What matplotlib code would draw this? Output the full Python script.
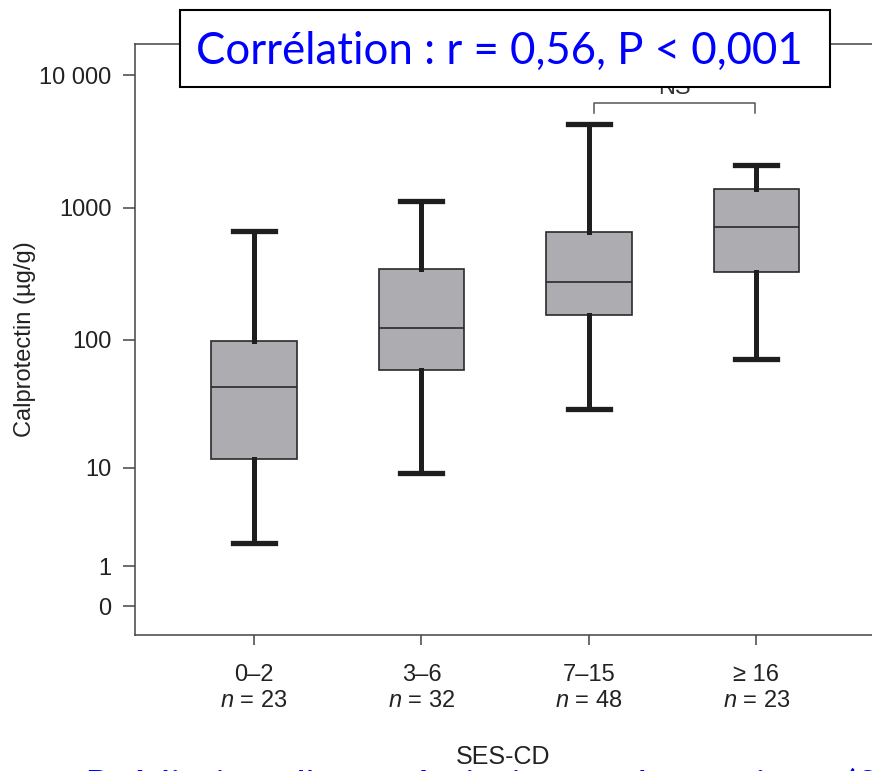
import numpy as np
import matplotlib
matplotlib.use("Agg")
import matplotlib.pyplot as plt
from matplotlib.patches import Rectangle
from matplotlib.ticker import FixedLocator, NullLocator

# ── Données ──────────────────────────────────────────────────────────────────
groups = ["0–2", "3–6", "7–15", "≥ 16"]
n_counts = [23, 32, 48, 23]
whisk_lo = [2.0, 9.1, 29.5, 72]
q1 = [11.7, 59, 154, 325]
med = [43.4, 123, 275, 712]
q3 = [99, 344, 653, 1377]
whisk_hi = [670, 1130, 4300, 2100]

ytick_vals = [0, 1, 10, 100, 1000, 10000]
ytick_labels = ["0", "1", "10", "100", "1000", "10 000"]

ns_pair = (3.03, 3.99)
ns_low, ns_high = 5200, 6150

title_txt = "Corrélation : r = 0,56, P < 0,001"
bottom_txt = "Prédiction d'une rémission endoscopique (0,80 ; 0,70–0,90)"
# ─────────────────────────────────────────────────────────────────────────────

plt.rcParams["font.family"] = ["Liberation Sans", "DejaVu Sans"]
plt.rcParams["mathtext.fontset"] = "custom"
plt.rcParams["mathtext.it"] = "Liberation Sans:italic"
plt.rcParams["mathtext.rm"] = "Liberation Sans"

W, H = 872, 771
fig = plt.figure(figsize=(W / 100, H / 100), dpi=100)
ax = fig.add_axes([135 / W, 136 / H, 737 / W, 591 / H])


def fwd(y):
    return np.log10(np.maximum(np.asarray(y, dtype=float) + 1, 1e-6))


def inv(v):
    return 10 ** np.asarray(v, dtype=float) - 1


ax.set_yscale("function", functions=(fwd, inv))

stats = []
for g, lo, a, m, b, hi in zip(groups, whisk_lo, q1, med, q3, whisk_hi):
    stats.append(dict(label=g, whislo=lo, q1=a, med=m, q3=b, whishi=hi, fliers=[]))

positions = np.arange(1, len(groups) + 1)
ax.bxp(stats, positions=positions, widths=0.51, capwidths=0.25,
       patch_artist=True, showfliers=False,
       boxprops=dict(facecolor="#adadb1", edgecolor="#2a2a2a", linewidth=1.2),
       whiskerprops=dict(color="#1e1e1e", linewidth=3.6),
       capprops=dict(color="#1e1e1e", linewidth=3.8),
       medianprops=dict(color="#2a2a2a", linewidth=1.2))

ax.set_xlim(0.29, 4.69)
ax.set_ylim(-0.395, 17124)

ax.yaxis.set_major_locator(FixedLocator(ytick_vals))
ax.yaxis.set_minor_locator(NullLocator())
ax.set_yticklabels(ytick_labels)
ax.set_xticks(positions)
ax.set_xticklabels([f"{g}\n$n$ = {n}" for g, n in zip(groups, n_counts)],
                   linespacing=1.2)

for side in ["left", "bottom", "top"]:
    ax.spines[side].set_color("#444444")
    ax.spines[side].set_linewidth(1.1)
ax.spines["right"].set_visible(False)

ax.tick_params(axis="y", length=9, width=1.1, color="#444444", pad=8,
               labelsize=17, labelcolor="#222222")
ax.tick_params(axis="x", length=7, width=1.1, color="#444444", pad=14,
               labelsize=17, labelcolor="#222222")

ax.set_ylabel("Calprotectin (µg/g)", fontsize=17, color="#222222")
ax.yaxis.set_label_coords(-0.134, 0.5)
ax.set_xlabel("SES-CD", fontsize=18, color="#222222", va="top")
ax.xaxis.set_label_coords(0.5, -0.186)

# crochet NS
ax.plot([ns_pair[0], ns_pair[0], ns_pair[1], ns_pair[1]],
        [ns_low, ns_high, ns_high, ns_low], color="#555555", linewidth=1.1,
        clip_on=False)
ax.text(np.mean(ns_pair), 6590, "NS", ha="center", va="bottom", fontsize=17,
        color="#333333", clip_on=False)

# encadré titre
fig.patches.append(Rectangle((180 / W, (H - 87) / H), 650 / W, 77 / H,
                             transform=fig.transFigure, facecolor="white",
                             edgecolor="black", linewidth=1.5, zorder=10))
fig.text(499 / W, (H - 64) / H, title_txt, ha="center", va="baseline",
         fontsize=31.5, color="#0000ff", family=["Lato", "DejaVu Sans"], zorder=11)

# texte bleu coupé en bas (seul le haut des lettres dépasse)
fig.text(85 / W, (H - 801) / H, bottom_txt, ha="left", va="baseline",
         fontsize=30, color="#0000ff", family=["Lato", "DejaVu Sans"], zorder=11)

fig.savefig("out.png", dpi=100)
